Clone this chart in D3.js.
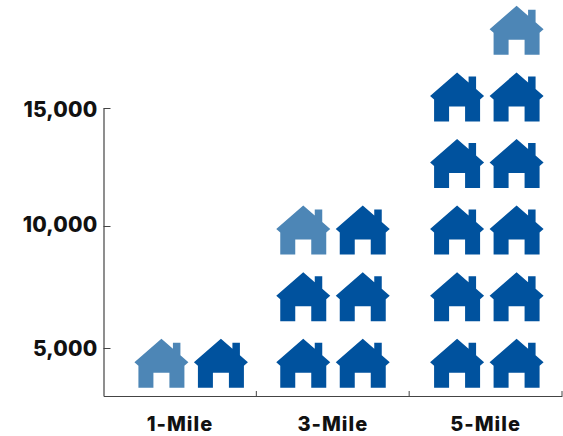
<!DOCTYPE html>
<html>
<head>
<meta charset="utf-8">
<script src="https://d3js.org/d3.v7.min.js"></script>
<style>
  html, body { margin: 0; padding: 0; background: #fff; }
  text { font-family: Inter, "Noto Sans", sans-serif; font-weight: 800; fill: #111; }
</style>
</head>
<body>
<svg id="chart" width="563" height="436"></svg>
<script>
const categories = ['1-Mile', '3-Mile', '5-Mile'];
const houseCounts = [2, 6, 11];
const tickValues = [5000, 10000, 15000];

const width = 563, height = 436;
const margin = { top: 108, right: 1, bottom: 40, left: 103.5 };
const baseline = height - margin.bottom;

const svg = d3.select('#chart');

const x = d3.scaleBand()
  .domain(categories)
  .range([margin.left, width - margin.right]);

// the source axis is not quite evenly spaced
const y = d3.scaleLinear()
  .domain([3000, 5000, 10000, 15000])
  .range([baseline, 348, 226, margin.top]);

// house rows, bottom edge of each row
const rowY = d3.scaleLinear()
  .domain([0, 6])
  .range([387.8, -11.8]);

// two houses per row, right one is placed first
const col = d3.scaleOrdinal().domain([0, 1]).range([30, -29.5]);

// the 1-Mile stack sits right of its band centre
const stackShift = d3.scaleOrdinal().domain(categories).range([11, 0, 1]);

// tick labels do not sit exactly on their ticks in the source
const labelShift = d3.scaleOrdinal().domain(tickValues).range([1, -1, 1.5]);

const housePath = 'M0,-49 L-27,-25.5 L-23,-22 L-23,0 L-8,0 L-8,-15 L8,-15 L8,0 L23,0 L23,-22 L27,-25.5 L19,-32.5 L19,-45 L11.5,-45 L11.5,-39 Z';

const houses = categories.flatMap((c, i) =>
  d3.range(houseCounts[i]).map(n => ({
    category: c,
    row: Math.floor(n / 2),
    side: n % 2,
    last: n === houseCounts[i] - 1
  }))
);

svg.selectAll('path.house')
  .data(houses)
  .join('path')
  .attr('class', 'house')
  .attr('d', housePath)
  .attr('fill', d => d.last ? '#4d86b6' : '#00529e')
  .attr('transform', d => {
    const hx = x(d.category) + x.bandwidth() / 2 + stackShift(d.category) + col(d.side);
    return `translate(${hx},${rowY(d.row)})`;
  });

// Add axes
const xAxis = svg.append('g')
  .attr('transform', `translate(0,${baseline})`)
  .call(d3.axisBottom(x).tickSize(0).tickPadding(21));
xAxis.select('.domain').attr('stroke', '#444').attr('stroke-width', 1.2);
xAxis.selectAll('text').style('font-size', '20px').style('letter-spacing', '1px');

svg.selectAll('line.sep')
  .data([...categories.slice(1).map(d => x(d)), x.range()[1]])
  .join('line')
  .attr('class', 'sep')
  .attr('x1', d => d).attr('x2', d => d)
  .attr('y1', baseline - 5).attr('y2', baseline)
  .attr('stroke', '#444');

const yAxis = svg.append('g')
  .attr('transform', `translate(${margin.left},0)`)
  .call(d3.axisLeft(y)
    .tickValues(tickValues)
    .tickFormat(d3.format(','))
    .tickSize(-7)
    .tickSizeOuter(0)
    .tickPadding(6));
yAxis.select('.domain').attr('stroke', '#444').attr('stroke-width', 1.2);
yAxis.selectAll('line').attr('stroke', '#444');
yAxis.selectAll('text')
  .attr('y', d => labelShift(d))
  .style('font-size', '21px')
  .style('letter-spacing', '0.2px');
</script>
</body>
</html>
